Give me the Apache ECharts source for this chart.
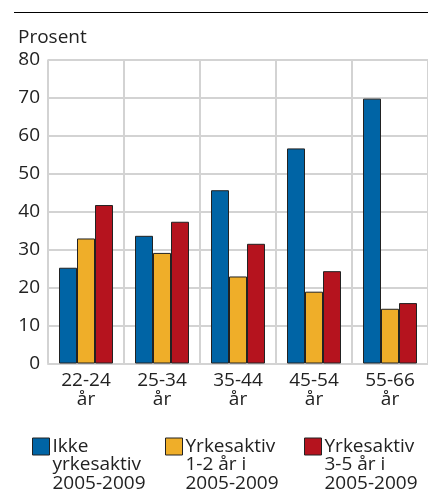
<!DOCTYPE html>
<html>
<head>
<meta charset="utf-8">
<script src="https://cdn.jsdelivr.net/npm/echarts@6/dist/echarts.min.js"></script>
<style>
html,body{margin:0;padding:0;background:#fff;}
#c{width:428px;height:491px;}
</style>
</head>
<body>
<div id="c"></div>
<script>
const categories = ['22-24\når', '25-34\når', '35-44\når', '45-54\når', '55-66\når'];
const seriesNames = ['Ikke\nyrkesaktiv\n2005-2009', 'Yrkesaktiv\n1-2 år i\n2005-2009', 'Yrkesaktiv\n3-5 år i\n2005-2009'];
const ikkeYrkesaktiv = [25.2, 33.6, 45.6, 56.6, 69.7];
const yrkesaktiv12 = [32.9, 29.1, 22.9, 18.9, 14.4];
const yrkesaktiv35 = [41.7, 37.3, 31.5, 24.3, 15.9];
const yTicks = [0, 10, 20, 30, 40, 50, 60, 70, 80];
const colors = ['#0064a5', '#efae29', '#b5131e'];
const FONT = 'Open Sans';

const chart = echarts.init(document.getElementById('c'));
const values = [ikkeYrkesaktiv, yrkesaktiv12, yrkesaktiv35];
const legendLefts = [32, 165, 304];

chart.setOption({
  animation: false,
  textStyle: {fontFamily: FONT},
  graphic: [
    {type: 'text', left: 14, top: -14.5, style: {text: 'Prosent', font: 'bold 19px "Open Sans"', fill: '#000'}},
    {type: 'line', shape: {x1: 14, y1: 12.5, x2: 428, y2: 12.5}, style: {stroke: '#000', lineWidth: 1.2}}
  ],
  legend: seriesNames.map((n, i) => ({
    data: [n],
    left: legendLefts[i],
    top: 400,
    padding: 0,
    orient: 'vertical',
    icon: 'rect',
    itemWidth: 17,
    itemHeight: 17,
    itemGap: 0,
    selectedMode: false,
    formatter: name => '\n\n' + name,
    itemStyle: {borderColor: '#222', borderWidth: 1},
    textStyle: {fontFamily: FONT, fontSize: 19, color: '#222', lineHeight: 18.5, padding: [0, 0, 0, -2]}
  })),
  grid: {left: 48, top: 59.5, right: -4, bottom: 127.5, containLabel: false},
  xAxis: {
    type: 'category',
    data: categories,
    axisLine: {show: true, lineStyle: {color: '#d3d3d3', width: 2}},
    axisTick: {show: false},
    splitLine: {show: true, interval: 0, lineStyle: {color: '#d3d3d3', width: 2}},
    axisLabel: {color: '#222', fontSize: 19, lineHeight: 18.5, margin: 8, interval: 0, fontFamily: FONT}
  },
  yAxis: {
    type: 'value',
    min: 0, max: 80, interval: 10,
    name: 'Prosent',
    nameLocation: 'end',
    nameGap: 12,
    nameTextStyle: {color: '#222', fontSize: 19, align: 'left', padding: [0, 0, 0, -30], fontFamily: FONT},
    axisLine: {show: false},
    axisTick: {show: false},
    splitLine: {show: true, lineStyle: {color: '#d3d3d3', width: 2}},
    axisLabel: {color: '#222', fontSize: 19, margin: 8, fontFamily: FONT,
      formatter: v => yTicks.includes(v) ? String(v) : ''}
  },
  series: seriesNames.map((n, i) => ({
    type: 'bar',
    name: n,
    data: values[i],
    barWidth: 18,
    barGap: '0%',
    itemStyle: {color: colors[i], borderColor: '#222', borderWidth: 1}
  }))
});
</script>
</body>
</html>
